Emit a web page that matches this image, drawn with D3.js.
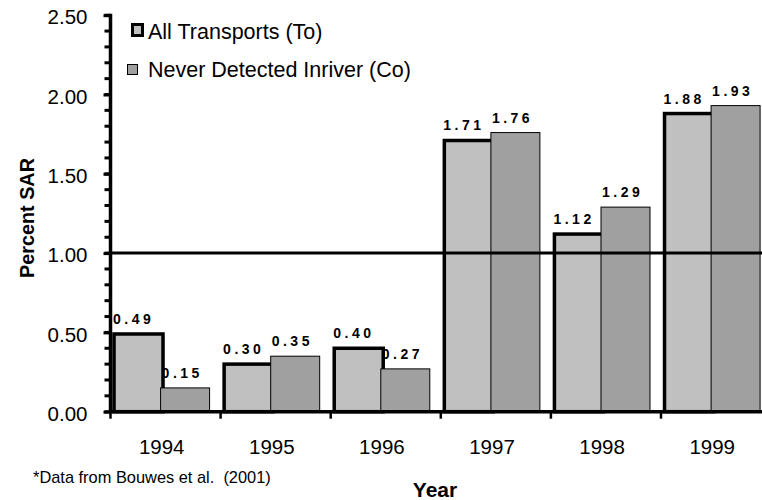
<!DOCTYPE html>
<html>

<head>
    <meta charset="utf-8" />
    <title>Percent SAR</title>
    <script src="https://d3js.org/d3.v7.min.js"></script>
    <style>
        body {
            margin: 0;
            background: #fff;
        }

        svg text {
            font-family: "Liberation Sans", Arial, sans-serif;
            fill: #000;
        }

        .value-label {
            font-size: 14px;
            font-weight: bold;
            letter-spacing: 3.5px;
        }
    </style>
</head>

<body>
</body>
<script>
    // data
    var years = ["1994", "1995", "1996", "1997", "1998", "1999"]
    var allTransports = [0.49, 0.30, 0.40, 1.71, 1.12, 1.88]
    var neverDetected = [0.15, 0.35, 0.27, 1.76, 1.29, 1.93]
    var seriesNames = ["All Transports (To)", "Never Detected Inriver (Co)"]
    var yTicks = [0, 0.5, 1, 1.5, 2, 2.5]
    var minorTicks = d3.range(0, 2.51, 0.1)
    var referenceLevel = 1.0

    var config = {
        WIDTH: 762,
        HEIGHT: 500,
        AXIS_X: 110.5,
        AXIS_Y: 411.7,
        TOP: 15.2,
        BAND: 110.1,
        color: {
            LIGHT: "#c0c0c0",
            DARK: "#a0a0a0"
        }
    }

    var svg = d3.select("body").append("svg")
        .attr("width", config.WIDTH)
        .attr("height", config.HEIGHT)

    var y = d3.scaleLinear().domain([0, 2.5]).range([config.AXIS_Y, config.TOP])
    var x = d3.scaleBand().domain(years)
        .range([config.AXIS_X, config.AXIS_X + config.BAND * years.length])
        .paddingInner(0).paddingOuter(0)
    var bw = x.bandwidth()
    var barW = bw * 0.445
    // light bar starts a little into the band, dark bar overlaps its right edge
    var lightX = function (d) { return x(d) + bw * 0.032 }
    var darkX = function (d) { return x(d) + bw * 0.455 }

    var rows = years.map(function (yr, i) {
        return { year: yr, to: allTransports[i], co: neverDetected[i] }
    })

    // value labels (drawn first, the bars cover them where they meet)
    var fmt = d3.format(".2f")
    svg.selectAll(".label-to").data(rows).enter().append("text")
        .attr("class", "value-label")
        .attr("x", d => lightX(d.year) - 1)
        .attr("y", d => y(d.to) - 10)
        .text(d => fmt(d.to))
    svg.selectAll(".label-co").data(rows).enter().append("text")
        .attr("class", "value-label")
        .attr("x", d => darkX(d.year) + 1)
        .attr("y", d => y(d.co) - 10)
        .text(d => fmt(d.co))

    // bars
    svg.selectAll(".bar-to").data(rows).enter().append("rect")
        .attr("class", "bar-to")
        .attr("x", d => lightX(d.year))
        .attr("y", d => y(d.to))
        .attr("width", barW)
        .attr("height", d => y(0) - y(d.to))
        .style("fill", config.color.LIGHT)
        .style("stroke", "#000")
        .style("stroke-width", 3.5)
    svg.selectAll(".bar-co").data(rows).enter().append("rect")
        .attr("class", "bar-co")
        .attr("x", d => darkX(d.year))
        .attr("y", d => y(d.co))
        .attr("width", barW)
        .attr("height", d => y(0) - y(d.co))
        .style("fill", config.color.DARK)
        .style("stroke", "#000")
        .style("stroke-width", 1)

    // reference line at 1.00
    svg.append("line")
        .attr("x1", config.AXIS_X).attr("x2", config.WIDTH)
        .attr("y1", y(referenceLevel)).attr("y2", y(referenceLevel))
        .style("stroke", "#000").style("stroke-width", 3)

    // y axis
    var yAxis = svg.append("g").attr("transform", "translate(" + config.AXIS_X + ",0)")
    yAxis.call(d3.axisLeft(y).tickValues(yTicks).tickFormat(d3.format(".2f")).tickSize(7).tickPadding(16))
    yAxis.select(".domain").remove()
    yAxis.selectAll(".tick line").style("stroke-width", 3)
    yAxis.selectAll(".tick text")
        .style("font-size", "20.5px")
        .style("font-family", "'Liberation Sans', Arial, sans-serif")
        .attr("dy", "0.42em")
    yAxis.selectAll(".minor").data(minorTicks).enter().append("line")
        .attr("x1", -6).attr("x2", 0)
        .attr("y1", d => y(d)).attr("y2", d => y(d))
        .style("stroke", "#000").style("stroke-width", 3)
    yAxis.append("line")
        .attr("x1", 0).attr("x2", 0)
        .attr("y1", config.TOP - 1.5).attr("y2", config.AXIS_Y + 1.5)
        .style("stroke", "#000").style("stroke-width", 3.5)

    // x axis
    var xAxis = svg.append("g").attr("transform", "translate(0," + config.AXIS_Y + ")")
    xAxis.append("line")
        .attr("x1", config.AXIS_X).attr("x2", config.WIDTH)
        .attr("y1", 0).attr("y2", 0)
        .style("stroke", "#000").style("stroke-width", 3.5)
    xAxis.selectAll(".xtick").data(years.concat(["end"])).enter().append("line")
        .attr("x1", (d, i) => config.AXIS_X + i * bw)
        .attr("x2", (d, i) => config.AXIS_X + i * bw)
        .attr("y1", 0).attr("y2", 7)
        .style("stroke", "#000").style("stroke-width", 2.5)
    xAxis.selectAll(".xlabel").data(years).enter().append("text")
        .attr("x", d => x(d) + bw * 0.465)
        .attr("y", 42.3)
        .attr("text-anchor", "middle")
        .style("font-size", "20.5px")
        .text(d => d)

    // axis titles
    svg.append("text")
        .attr("transform", "translate(33.5,218) rotate(-90)")
        .attr("text-anchor", "middle")
        .style("font-size", "19.8px")
        .style("font-weight", "bold")
        .text("Percent SAR")
    svg.append("text")
        .attr("x", 435).attr("y", 496.5)
        .attr("text-anchor", "middle")
        .style("font-size", "21px")
        .style("font-weight", "bold")
        .text("Year")

    // footnote
    svg.append("text")
        .attr("x", 33).attr("y", 483)
        .style("font-size", "16.4px")
        .style("white-space", "pre")
        .text("*Data from Bouwes et al.  (2001)")

    // legend
    var legend = svg.append("g")
    legend.append("rect")
        .attr("x", 132.5).attr("y", 24.5).attr("width", 10).attr("height", 11)
        .style("fill", config.color.LIGHT).style("stroke", "#000").style("stroke-width", 3)
    legend.append("rect")
        .attr("x", 127.5).attr("y", 64.5).attr("width", 10).attr("height", 10)
        .style("fill", config.color.DARK).style("stroke", "#000").style("stroke-width", 1)
    legend.selectAll(".legend-text").data(seriesNames).enter().append("text")
        .attr("x", 148)
        .attr("y", (d, i) => i == 0 ? 39 : 77)
        .style("font-size", "21.5px")
        .text(d => d)
</script>

</html>
